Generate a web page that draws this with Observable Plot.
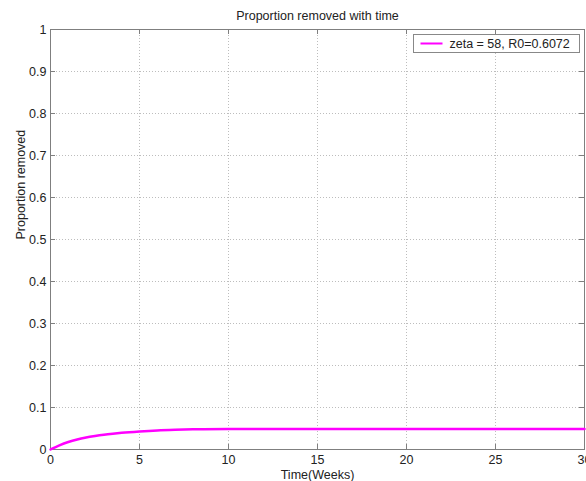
<!DOCTYPE html>
<html>
<head>
<meta charset="utf-8">
<script src="https://cdn.jsdelivr.net/npm/d3@7"></script>
<script src="https://cdn.jsdelivr.net/npm/@observablehq/plot@0.6"></script>
<style>
  html, body { margin: 0; padding: 0; background: #fff; }
  #chart { width: 586px; height: 481px; }
  svg { font-family: "Liberation Sans", Arial, sans-serif; }
</style>
</head>
<body>
<div id="chart"></div>
<script>
const titleText = "Proportion removed with time";
const xLabelText = "Time(Weeks)";
const yLabelText = "Proportion removed";
const legendLabel = "zeta = 58, R0=0.6072";

const timeWeeks = [0, 0.5, 1, 1.5, 2, 2.5, 3, 3.5, 4, 5, 6, 7, 8, 10, 12, 15, 20, 25, 30];
const proportionRemoved = [0, 0.010, 0.018, 0.024, 0.0285, 0.032, 0.035, 0.0375, 0.0397, 0.043, 0.0455, 0.047, 0.048, 0.049, 0.049, 0.049, 0.049, 0.049, 0.049];

const xTicks = [0, 5, 10, 15, 20, 25, 30];
const yTicks = [0, 0.1, 0.2, 0.3, 0.4, 0.5, 0.6, 0.7, 0.8, 0.9, 1];
const xGrid = [5, 10, 15, 20, 25];
const yGrid = [0.1, 0.2, 0.3, 0.4, 0.5, 0.6, 0.7, 0.8, 0.9];

const data = timeWeeks.map((t, i) => ({t, p: proportionRemoved[i]}));

const W = 586, H = 481;
const mL = 50, mR = 2, mT = 29, mB = 32;
const fw = W - mL - mR, fh = H - mT - mB;
const tick = 5;
const lineColor = "#ff00ff";
const axisColor = "#7f7f7f";
const gridColor = "#bdbdbd";
const fs = 12.5;

const chart = Plot.plot({
  width: W, height: H,
  marginLeft: mL, marginRight: mR, marginTop: mT, marginBottom: mB,
  style: {fontFamily: "Liberation Sans, Arial, sans-serif", fontSize: fs + "px", color: "#222", background: "#fff"},
  x: {domain: [0, 30]},
  y: {domain: [0, 1]},
  marks: [
    Plot.ruleX(xGrid, {x: d => d, stroke: gridColor, strokeDasharray: "1,2"}),
    Plot.ruleY(yGrid, {y: d => d, stroke: gridColor, strokeDasharray: "1,2"}),
    Plot.ruleX(xTicks, {x: d => d, stroke: axisColor, insetTop: fh - tick}),
    Plot.ruleX(xTicks, {x: d => d, stroke: axisColor, insetBottom: fh - tick}),
    Plot.ruleY(yTicks, {y: d => d, stroke: axisColor, insetRight: fw - tick}),
    Plot.ruleY(yTicks, {y: d => d, stroke: axisColor, insetLeft: fw - tick}),
    Plot.frame({stroke: axisColor}),
    Plot.axisX({ticks: xTicks, tickSize: 0, tickPadding: 6, label: null, fontSize: fs, tickFormat: d => String(d)}),
    Plot.axisY({ticks: yTicks, tickSize: 0, tickPadding: 4, label: null, fontSize: fs, tickFormat: d => String(d)}),
    Plot.line(data, {x: "t", y: "p", stroke: lineColor, strokeWidth: 2.5, curve: "monotone-x"}),
    Plot.frame({fill: "#fff", stroke: "#888", insetLeft: 363, insetRight: 5, insetTop: 5, insetBottom: fh - 23}),
    Plot.frame({fill: lineColor, stroke: null, insetLeft: 370, insetRight: fw - 392, insetTop: 13, insetBottom: fh - 15}),
    Plot.text([legendLabel], {text: d => d, frameAnchor: "top-left", dx: 399, dy: 14, textAnchor: "start", lineAnchor: "middle", fontSize: fs, fill: "#222"}),
    Plot.text([titleText], {text: d => d, frameAnchor: "top", dy: -14, lineAnchor: "middle", fontSize: fs, fill: "#222"}),
    Plot.text([xLabelText], {text: d => d, frameAnchor: "bottom", dy: 25, lineAnchor: "middle", fontSize: fs, fill: "#222"}),
    Plot.text([yLabelText], {text: d => d, frameAnchor: "left", dx: -30, rotate: -90, lineAnchor: "middle", fontSize: fs, fill: "#222"})
  ]
});
document.getElementById("chart").appendChild(chart);
</script>
</body>
</html>
